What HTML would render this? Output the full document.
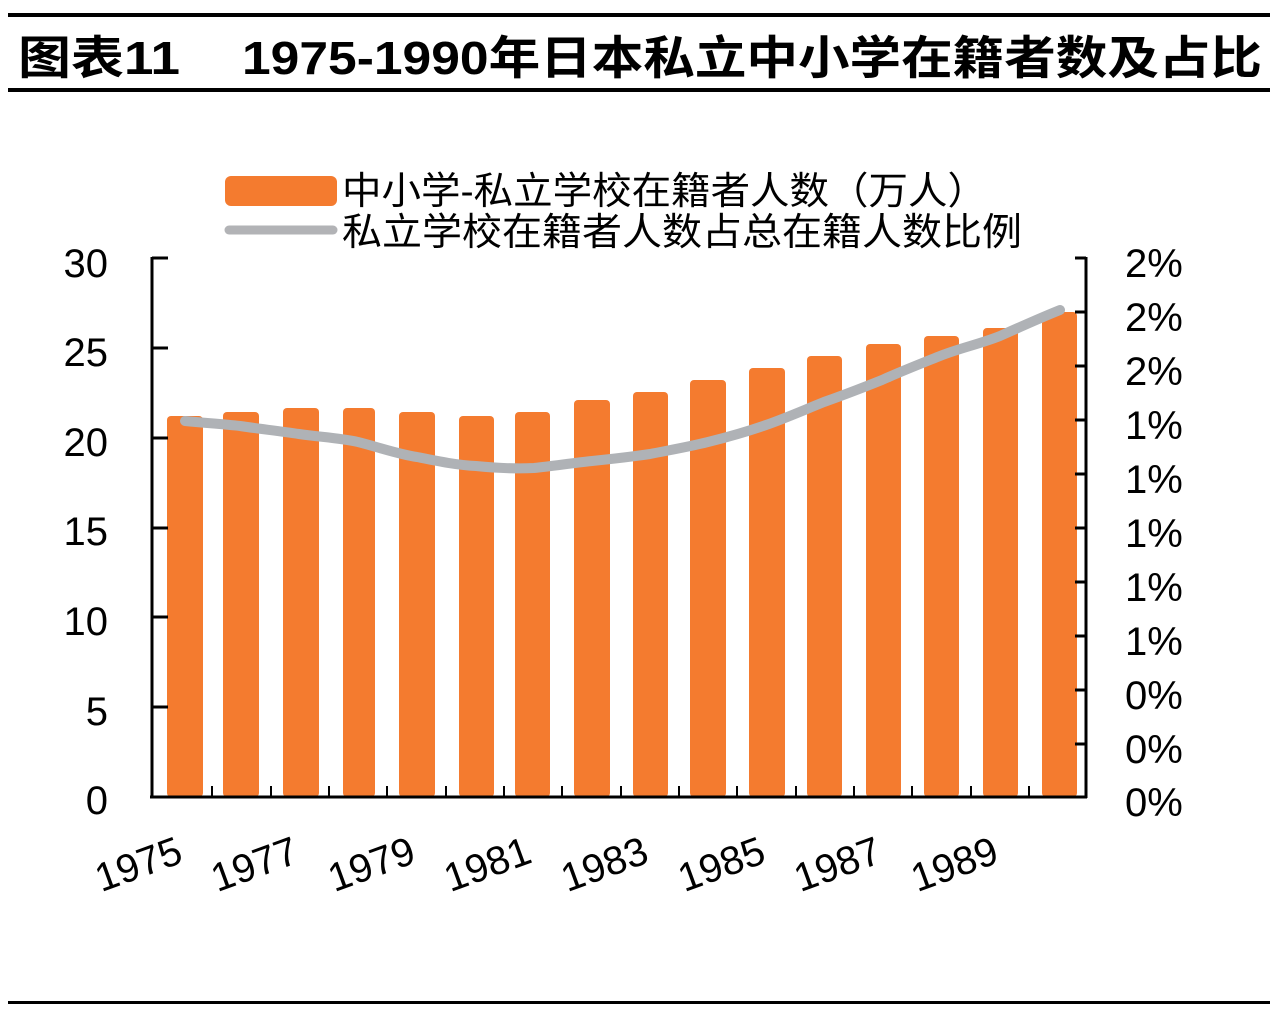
<!DOCTYPE html>
<html><head><meta charset="utf-8"><style>
html,body{margin:0;padding:0;background:#fff;}
svg{display:block;}
text{font-family:"Liberation Sans","Noto Sans CJK SC",sans-serif;}
</style></head><body>
<svg width="1276" height="1012" viewBox="0 0 1276 1012" xmlns="http://www.w3.org/2000/svg">
<rect width="1276" height="1012" fill="#fff"/>
<rect x="8" y="13" width="1262" height="4" fill="#000"/>
<rect x="8" y="88" width="1262" height="4" fill="#000"/>
<rect x="8" y="1001" width="1262" height="3" fill="#000"/>
<text x="18" y="74" font-size="46" font-weight="bold" textLength="162" lengthAdjust="spacingAndGlyphs">图表11</text>
<text x="242" y="74" font-size="46" font-weight="bold" textLength="1020" lengthAdjust="spacingAndGlyphs">1975-1990年日本私立中小学在籍者数及占比</text>
<!-- legend -->
<rect x="225" y="176" width="112" height="30" rx="6" fill="#f47b2f"/>
<line x1="229" y1="230" x2="333" y2="230" stroke="#b2b3b6" stroke-width="9" stroke-linecap="round"/>
<text x="342" y="204" font-size="38" textLength="645" lengthAdjust="spacingAndGlyphs">中小学-私立学校在籍者人数（万人）</text>
<text x="342" y="245" font-size="38" textLength="680" lengthAdjust="spacingAndGlyphs">私立学校在籍者人数占总在籍人数比例</text>
<!-- bars -->
<g fill="#f47b2f">
<rect x="167" y="416" width="36" height="381" rx="4"/>
<rect x="223" y="412" width="36" height="385" rx="4"/>
<rect x="283" y="408" width="36" height="389" rx="4"/>
<rect x="343" y="408" width="32" height="389" rx="4"/>
<rect x="399" y="412" width="36" height="385" rx="4"/>
<rect x="459" y="416" width="35" height="381" rx="4"/>
<rect x="515" y="412" width="35" height="385" rx="4"/>
<rect x="574" y="400" width="36" height="397" rx="4"/>
<rect x="633" y="392" width="35" height="405" rx="4"/>
<rect x="690" y="380" width="36" height="417" rx="4"/>
<rect x="749" y="368" width="36" height="429" rx="4"/>
<rect x="807" y="356" width="35" height="441" rx="4"/>
<rect x="866" y="344" width="35" height="453" rx="4"/>
<rect x="924" y="336" width="35" height="461" rx="4"/>
<rect x="983" y="328" width="35" height="469" rx="4"/>
<rect x="1042" y="312" width="35" height="485" rx="4"/>
</g>
<!-- line -->
<path d="M185,421 C205,423 222,424 240,426 C260,429 280,431 299,434 C320,437 340,438 358,442 C378,447 397,454 417,457 C437,461 456,465 476,466 C496,468 515,469 534,468 C554,466 572,463 592,461 C612,459 630,457 650,454 C670,450 688,447 708,442 C728,437 746,432 766,425 C786,418 804,410 824,402 C844,395 862,388 882,380 C902,371 920,364 940,356 C960,348 980,344 1000,336 C1020,327 1040,318 1060,310" fill="none" stroke="#afb2b6" stroke-width="10" stroke-linecap="round"/>
<!-- axes -->
<g stroke="#000" stroke-width="3" fill="none">
<line x1="152" y1="257" x2="152" y2="798"/>
<line x1="150" y1="797" x2="1087" y2="797"/>
<line x1="1086" y1="257" x2="1086" y2="798"/>
<line x1="152" y1="258" x2="168" y2="258"/>
<line x1="152" y1="348" x2="168" y2="348"/>
<line x1="152" y1="438" x2="168" y2="438"/>
<line x1="152" y1="528" x2="168" y2="528"/>
<line x1="152" y1="617" x2="168" y2="617"/>
<line x1="152" y1="707" x2="168" y2="707"/>
<line x1="1075" y1="258" x2="1086" y2="258"/>
<line x1="1075" y1="312" x2="1086" y2="312"/>
<line x1="1075" y1="366" x2="1086" y2="366"/>
<line x1="1075" y1="420" x2="1086" y2="420"/>
<line x1="1075" y1="474" x2="1086" y2="474"/>
<line x1="1075" y1="528" x2="1086" y2="528"/>
<line x1="1075" y1="582" x2="1086" y2="582"/>
<line x1="1075" y1="636" x2="1086" y2="636"/>
<line x1="1075" y1="690" x2="1086" y2="690"/>
<line x1="1075" y1="744" x2="1086" y2="744"/>
</g>
<g stroke="#000" stroke-width="2">
<line x1="212" y1="786" x2="212" y2="797"/><line x1="271" y1="786" x2="271" y2="797"/>
<line x1="329" y1="786" x2="329" y2="797"/><line x1="387" y1="786" x2="387" y2="797"/>
<line x1="446" y1="786" x2="446" y2="797"/><line x1="504" y1="786" x2="504" y2="797"/>
<line x1="562" y1="786" x2="562" y2="797"/><line x1="621" y1="786" x2="621" y2="797"/>
<line x1="679" y1="786" x2="679" y2="797"/><line x1="737" y1="786" x2="737" y2="797"/>
<line x1="796" y1="786" x2="796" y2="797"/><line x1="854" y1="786" x2="854" y2="797"/>
<line x1="912" y1="786" x2="912" y2="797"/><line x1="971" y1="786" x2="971" y2="797"/>
<line x1="1029" y1="786" x2="1029" y2="797"/>
</g>
<!-- left labels -->
<g font-size="40" text-anchor="end">
<text x="108" y="277">30</text>
<text x="108" y="366">25</text>
<text x="108" y="456">20</text>
<text x="108" y="545">15</text>
<text x="108" y="635">10</text>
<text x="108" y="725">5</text>
<text x="108" y="814">0</text>
</g>
<g font-size="40" text-anchor="start">
<text x="1125" y="277">2%</text>
<text x="1125" y="331">2%</text>
<text x="1125" y="385">2%</text>
<text x="1125" y="439">1%</text>
<text x="1125" y="493">1%</text>
<text x="1125" y="547">1%</text>
<text x="1125" y="601">1%</text>
<text x="1125" y="655">1%</text>
<text x="1125" y="709">0%</text>
<text x="1125" y="763">0%</text>
<text x="1125" y="816">0%</text>
</g>
<!-- x labels -->
<g font-size="40" text-anchor="middle">
<text transform="translate(143,877) rotate(-20)">1975</text>
<text transform="translate(259,877) rotate(-20)">1977</text>
<text transform="translate(376,877) rotate(-20)">1979</text>
<text transform="translate(492,877) rotate(-20)">1981</text>
<text transform="translate(609,877) rotate(-20)">1983</text>
<text transform="translate(726,877) rotate(-20)">1985</text>
<text transform="translate(842,877) rotate(-20)">1987</text>
<text transform="translate(959,877) rotate(-20)">1989</text>
</g>
</svg>
</body></html>
